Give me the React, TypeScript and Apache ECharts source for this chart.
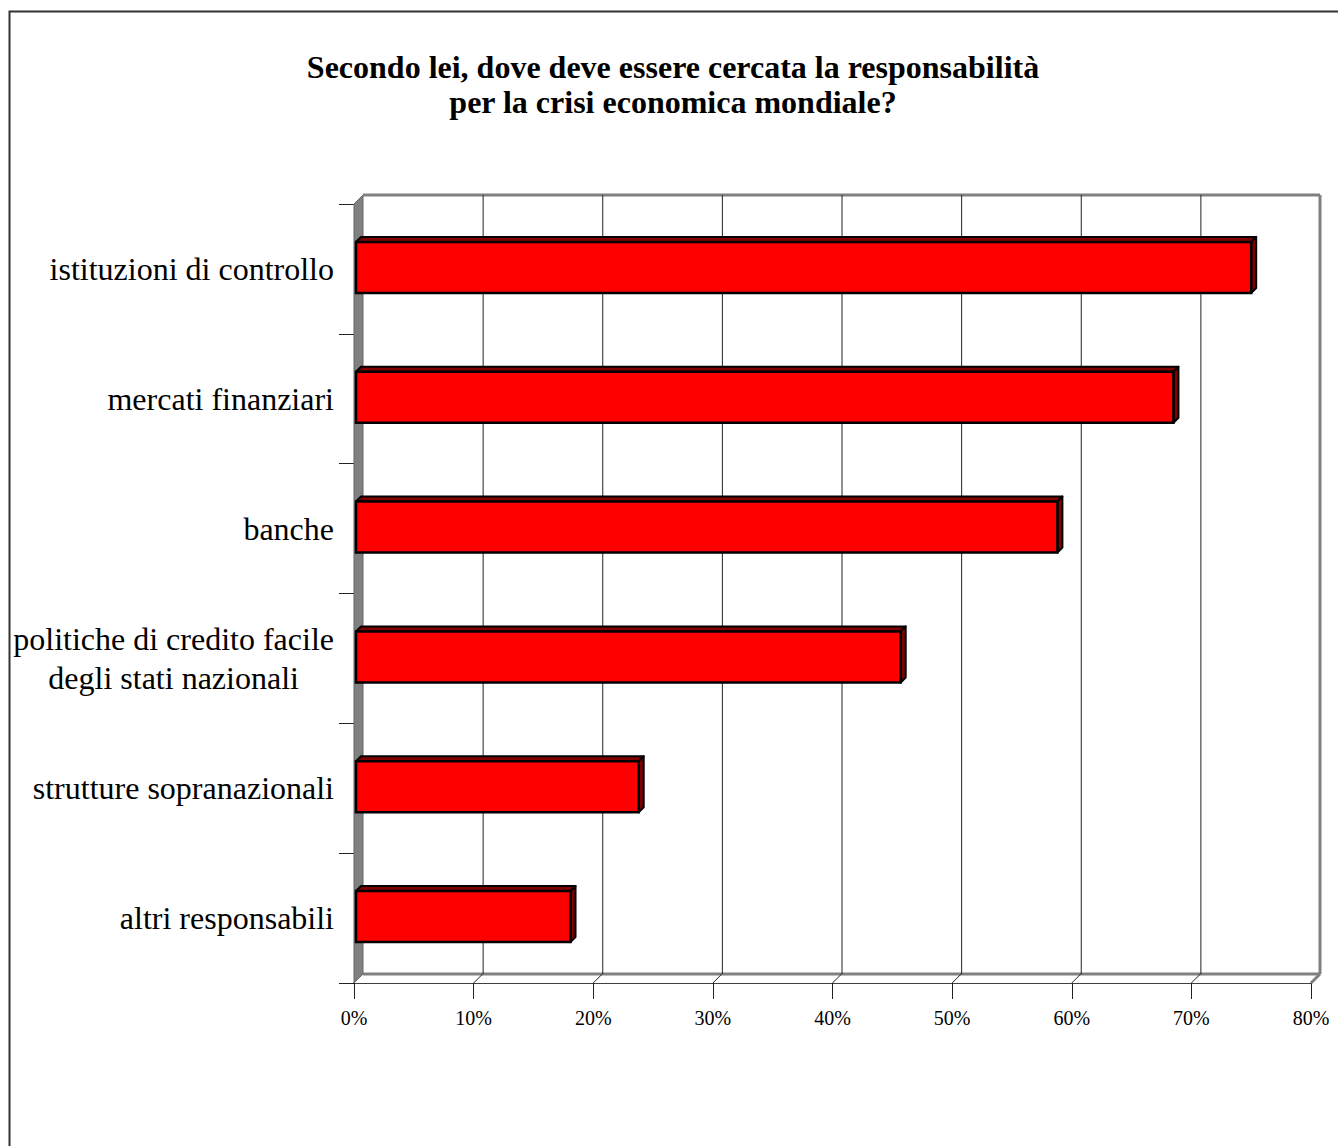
import React, { useEffect, useRef } from "react";
import * as echarts from "echarts";

const TITLE = "Secondo lei, dove deve essere cercata la responsabilità\nper la crisi economica mondiale?";
const categories = [
  "istituzioni di controllo",
  "mercati finanziari",
  "banche",
  "politiche di credito facile\ndegli stati nazionali",
  "strutture sopranazionali",
  "altri responsabili",
];
const values = [75.0, 68.5, 58.8, 45.7, 23.8, 18.1];
const xTicks = [0, 10, 20, 30, 40, 50, 60, 70, 80];

const FONT = "Liberation Serif";
const D = 9; // wall depth offset
const BD = 5; // bar depth

export default function App() {
  const ref = useRef<HTMLDivElement>(null);
  useEffect(() => {
    if (!ref.current) return;
    const chart = echarts.init(ref.current, null, { renderer: "svg" });
    const option: any = {
      animation: false,
      backgroundColor: "#ffffff",
      title: {
        text: TITLE,
        left: 668,
        top: 44,
        textAlign: "center",
        textStyle: {
          fontFamily: FONT,
          fontWeight: "bold",
          fontSize: 32,
          lineHeight: 35,
          color: "#000",
        },
      },
      graphic: [
        {
          type: "rect",
          shape: { x: 9.5, y: 11.5, width: 1400, height: 1200 },
          style: { fill: "none", stroke: "#333", lineWidth: 2 },
          silent: true,
        },
      ],
      grid: { left: 354, right: 27, top: 204, bottom: 163, containLabel: false },
      xAxis: {
        type: "value",
        min: 0,
        max: 80,
        interval: 10,
        axisLine: { show: true, lineStyle: { color: "#000", width: 1.5 } },
        axisTick: { show: true, length: 16, lineStyle: { color: "#222", width: 1 } },
        splitLine: { show: false },
        axisLabel: {
          formatter: "{value}%",
          fontFamily: FONT,
          fontSize: 20,
          color: "#000",
          margin: 25,
        },
      },
      yAxis: {
        type: "category",
        data: categories,
        inverse: true,
        axisLine: { show: false },
        axisTick: { show: true, length: 15, lineStyle: { color: "#222", width: 1 } },
        axisLabel: {
          fontFamily: FONT,
          fontSize: 32,
          lineHeight: 39,
          color: "#000",
          margin: 20,
          align: "right",
          formatter: (v: string) =>
            v.split("\n").map((l) => `{c|${l}}`).join("\n"),
          rich: {
            c: {
              fontFamily: FONT,
              fontSize: 32,
              lineHeight: 39,
              color: "#000",
              align: "center",
            },
          },
        },
        splitLine: { show: false },
      },
      series: [
        {
          type: "custom",
          name: "walls",
          silent: true,
          z: 1,
          data: xTicks,
          renderItem: (params: any, api: any) => {
            const cs = params.coordSys;
            const v = api.value(0);
            const px = api.coord([v, 0])[0];
            const x = cs.x, y = cs.y, w = cs.width, h = cs.height;
            const children: any[] = [];
            if (v === 0) {
              children.push({
                type: "polygon",
                shape: { points: [[x, y + h], [x + D, y + h - D], [x + w + D, y + h - D], [x + w, y + h]] },
                style: { fill: "#ffffff", stroke: null },
              });
              children.push({
                type: "line",
                shape: { x1: x + D, y1: y + h - D, x2: x + w + D, y2: y + h - D },
                style: { stroke: "#808080", lineWidth: 3 },
              });
              children.push({
                type: "line",
                shape: { x1: x + D, y1: y - D, x2: x + w + D, y2: y - D },
                style: { stroke: "#808080", lineWidth: 3 },
              });
              children.push({
                type: "polygon",
                shape: { points: [[x, y], [x + D, y - D], [x + D, y + h - D], [x, y + h]] },
                style: { fill: "#808080", stroke: "#666", lineWidth: 1 },
              });
            } else if (v === 80) {
              children.push({
                type: "line",
                shape: { x1: px + D, y1: y - D, x2: px + D, y2: y + h - D },
                style: { stroke: "#808080", lineWidth: 3 },
              });
              children.push({
                type: "line",
                shape: { x1: px + D, y1: y + h - D, x2: px, y2: y + h },
                style: { stroke: "#808080", lineWidth: 3 },
              });
            } else {
              children.push({
                type: "line",
                shape: { x1: px + D + 0.5, y1: y - D, x2: px + D + 0.5, y2: y + h - D },
                style: { stroke: "#222", lineWidth: 1 },
              });
              children.push({
                type: "line",
                shape: { x1: px + D, y1: y + h - D, x2: px, y2: y + h },
                style: { stroke: "#222", lineWidth: 1 },
              });
            }
            return { type: "group", children };
          },
        },
        {
          type: "custom",
          name: "bars",
          z: 5,
          data: values.map((v, i) => [v, i]),
          renderItem: (params: any, api: any) => {
            const val = api.value(0);
            const idx = api.value(1);
            const p0 = api.coord([0, idx]);
            const p1 = api.coord([val, idx]);
            const band = api.size([0, 1])[1];
            const bh = band * 0.393;
            const x0 = p0[0] + 2;
            const x1 = p1[0];
            const top = p0[1] - bh / 2 - 1.5;
            const bot = top + bh;
            return {
              type: "group",
              children: [
                {
                  type: "polygon",
                  shape: { points: [[x0, top], [x0 + BD, top - BD], [x1 + BD, top - BD], [x1, top]] },
                  style: { fill: "#800000", stroke: "#000", lineWidth: 2, lineJoin: "round" },
                },
                {
                  type: "polygon",
                  shape: { points: [[x1, top], [x1 + BD, top - BD], [x1 + BD, bot - BD], [x1, bot]] },
                  style: { fill: "#800000", stroke: "#000", lineWidth: 2, lineJoin: "round" },
                },
                {
                  type: "rect",
                  shape: { x: x0, y: top, width: x1 - x0, height: bh },
                  style: { fill: "#ff0000", stroke: "#000", lineWidth: 2.5 },
                },
              ],
            };
          },
        },
      ],
    };
    chart.setOption(option);
    return () => chart.dispose();
  }, []);
  return (
    <div
      ref={ref}
      style={{ position: "fixed", left: 0, top: 0, width: 1338, height: 1146 }}
    />
  );
}
